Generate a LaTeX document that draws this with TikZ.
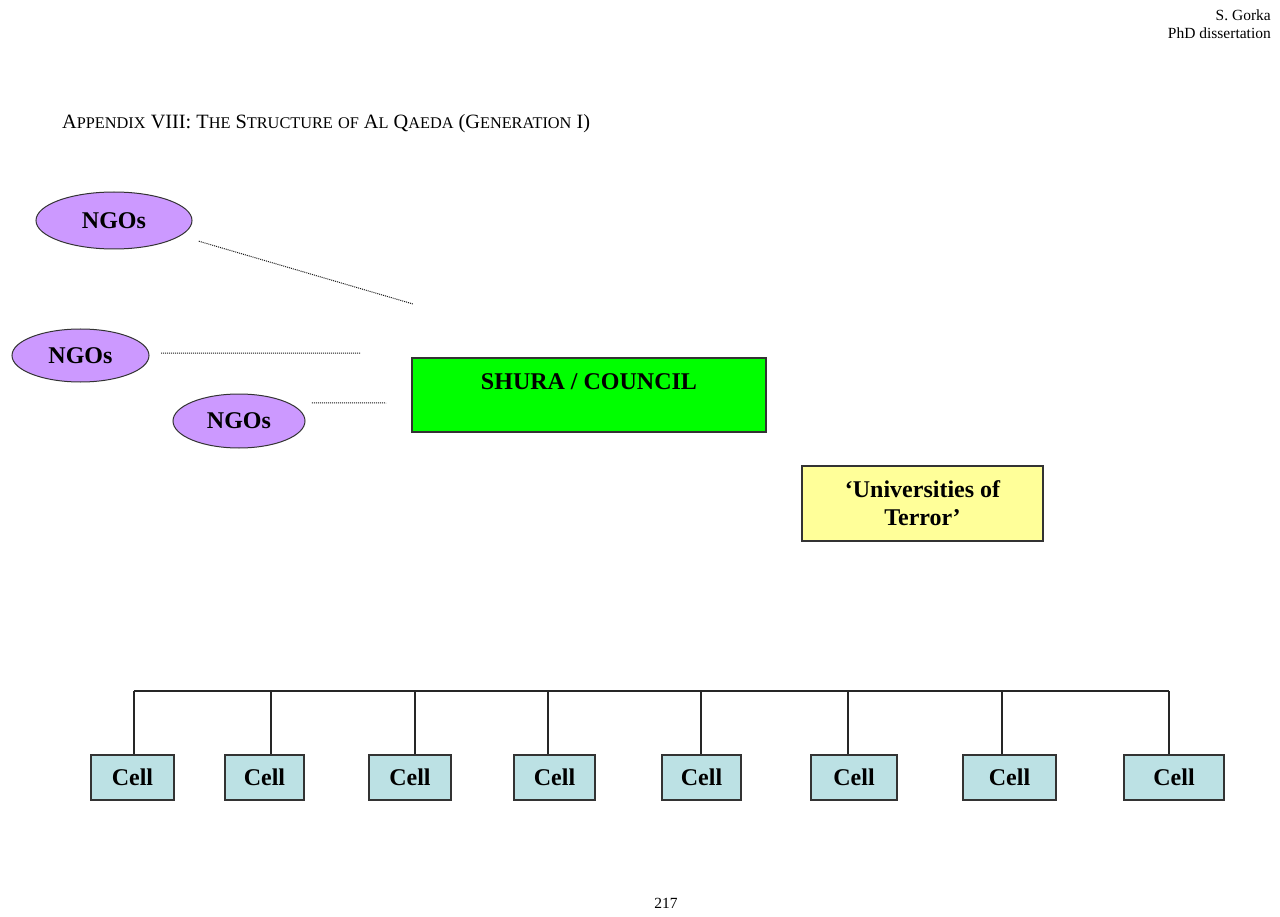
\documentclass[tikz,border=0pt]{standalone}
\usepackage{fontspec}
\setmainfont{Liberation Serif}
\usetikzlibrary{positioning, shapes.geometric}

\definecolor{ngoviolet}{RGB}{204,153,255}
\definecolor{shuragreen}{RGB}{0,255,0}
\definecolor{uniyellow}{RGB}{255,255,153}
\definecolor{cellblue}{RGB}{188,225,228}

% versalitas simuladas
\newcommand{\smallcapsfake}[2]{#1{\fontsize{16.3}{24}\selectfont #2}}

\begin{document}
\begin{tikzpicture}[
    x=1pt, y=-1pt,
    pagetext/.style={font=\fontsize{15.5}{18}\selectfont, inner sep=0pt},
    ngo/.style={
        ellipse,
        draw=black!80,
        line width=1pt,
        fill=ngoviolet,
        inner sep=0pt,
        font=\fontsize{24}{28}\selectfont\bfseries,
    },
    caja/.style={
        rectangle,
        draw=black!80,
        line width=1.2pt,
        align=center,
        inner sep=0pt,
        font=\fontsize{24}{28}\selectfont\bfseries,
    },
    cellbox/.style={caja, fill=cellblue, minimum height=45pt},
    dotline/.style={black!90, line width=1pt, dash pattern=on 1pt off 1pt},
    link/.style={black!85, line width=1.2pt}
]

\fill[white] (0,0) rectangle (1280,917);
\useasboundingbox (0,0) rectangle (1280,917);

% Cabecera y titulo
\node[pagetext, anchor=base east] (author) at (1271,21) {S. Gorka};
\node[pagetext, anchor=base east] (thesis) at (1271,39) {PhD dissertation};
\node[pagetext, anchor=base west, font=\fontsize{20.3}{24}\selectfont] (title) at (62,129)
    {\smallcapsfake{A}{PPENDIX} VIII: \smallcapsfake{T}{HE} \smallcapsfake{S}{TRUCTURE} \smallcapsfake{}{OF} \smallcapsfake{A}{L} \smallcapsfake{Q}{AEDA} (\smallcapsfake{G}{ENERATION} I)};
\node[pagetext, anchor=base] (pagenum) at (666,908) {217};

% Nodos
\node[ngo, minimum width=156pt, minimum height=57pt] (ngoA) at (114,220.5) {NGOs};
\node[ngo, minimum width=137pt, minimum height=53pt] (ngoB) at (80.5,355.5) {NGOs};
\node[ngo, minimum width=132pt, minimum height=54pt] (ngoC) at (239,421) {NGOs};

\node[caja, fill=shuragreen, minimum width=354pt, minimum height=74pt,
      text height=17pt, text depth=29pt, inner ysep=14pt] (shura) at (589,395) {SHURA / COUNCIL};
\node[caja, fill=uniyellow, minimum width=241pt, minimum height=75pt] (univ) at (922.5,503.5)
    {‘Universities of\\Terror’};

\node[cellbox, minimum width=83pt] (cell1) at (132.5,777.5) {Cell};
\node[cellbox, minimum width=79pt] (cell2) at (264.5,777.5) {Cell};
\node[cellbox, minimum width=82pt] (cell3) at (410,777.5) {Cell};
\node[cellbox, minimum width=81pt] (cell4) at (554.5,777.5) {Cell};
\node[cellbox, minimum width=79pt] (cell5) at (701.5,777.5) {Cell};
\node[cellbox, minimum width=86pt] (cell6) at (854,777.5) {Cell};
\node[cellbox, minimum width=93pt] (cell7) at (1009.5,777.5) {Cell};
\node[cellbox, minimum width=100pt] (cell8) at (1174,777.5) {Cell};

% Lineas punteadas de las NGOs
\coordinate (tipA) at (413,304);
\coordinate (tipB) at (361,353);
\coordinate (tipC) at (386,403);
\draw[dotline, shorten <=19pt] (ngoA.-13) -- (tipA);
\draw[dotline, shorten <=12pt] (ngoB.2) -- (tipB);
\draw[dotline, shorten <=23pt] (ngoC.20) -- (tipC);

% Barra de las celulas
\coordinate (tap1) at (134,691);
\coordinate (tap2) at (271,691);
\coordinate (tap3) at (415,691);
\coordinate (tap4) at (548,691);
\coordinate (tap5) at (701,691);
\coordinate (tap6) at (848,691);
\coordinate (tap7) at (1002,691);
\coordinate (tap8) at (1169,691);
\draw[link] (tap1) -- (tap8);
\draw[link] (tap1) -- (tap1 |- cell1.north);
\draw[link] (tap2) -- (tap2 |- cell2.north);
\draw[link] (tap3) -- (tap3 |- cell3.north);
\draw[link] (tap4) -- (tap4 |- cell4.north);
\draw[link] (tap5) -- (tap5 |- cell5.north);
\draw[link] (tap6) -- (tap6 |- cell6.north);
\draw[link] (tap7) -- (tap7 |- cell7.north);
\draw[link] (tap8) -- (tap8 |- cell8.north);

\end{tikzpicture}
\end{document}
